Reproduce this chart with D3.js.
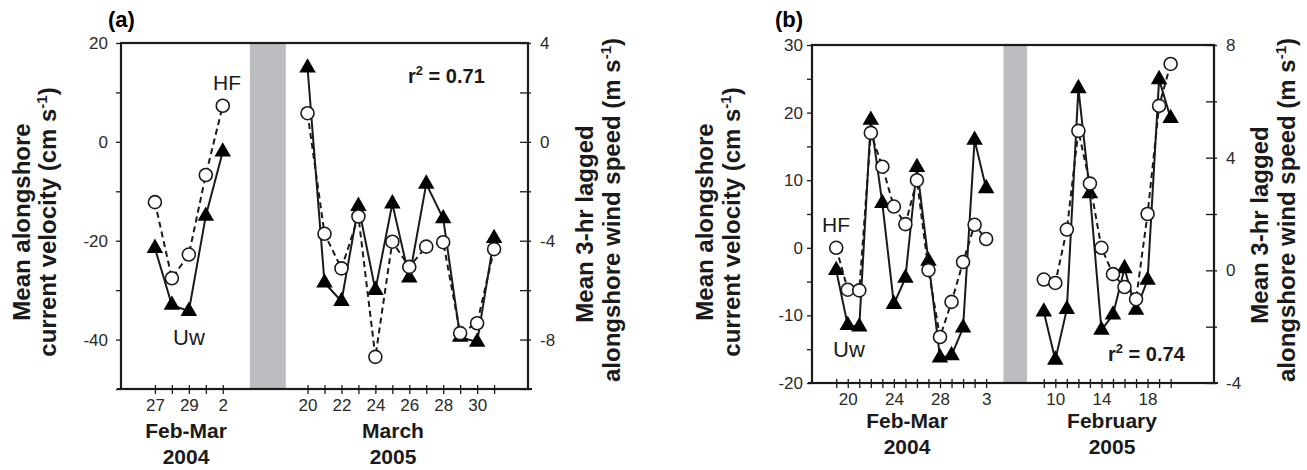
<!DOCTYPE html>
<html>
<head>
<meta charset="utf-8">
<script src="https://cdn.jsdelivr.net/npm/d3@7"></script>
<style>
  body { margin: 0; background: #fff; }
  svg { font-family: "Liberation Sans", Arial, Helvetica, sans-serif; }
</style>
</head>
<body>
<svg id="chart" width="1307" height="470"></svg>
<script>
// panel (a): Feb-Mar 2004 and March 2005
const aDays2004 = [27, 28, 29, 1, 2];
const aHF2004 = [-12.2, -27.6, -22.8, -6.7, 7.3];          // cm/s
const aUw2004 = [-4.3, -6.6, -6.85, -3.0, -0.4];           // m/s
const aDays2005 = [20, 21, 22, 23, 24, 25, 26, 27, 28, 29, 30, 31];
const aHF2005 = [5.8, -18.6, -25.6, -15.1, -43.5, -20.2, -25.3, -21.2, -20.3, -38.7, -36.7, -21.7];
const aUw2005 = [3.0, -5.7, -6.45, -2.6, -6.0, -2.5, -5.5, -1.7, -3.1, -7.9, -8.1, -3.9];
const aLabels2004 = [27, 29, 2];
const aLabels2005 = [20, 22, 24, 26, 28, 30];
const aLeftLabels = [20, 0, -20, -40];
const aRightLabels = [4, 0, -4, -8];

// panel (b): Feb-Mar 2004 and February 2005
const bDays2004 = [19, 20, 21, 22, 23, 24, 25, 26, 27, 28, 29, 1, 2, 3];
const bHF2004 = [0.0, -6.2, -6.3, 17.0, 12.0, 6.1, 3.5, 10.0, -3.3, -13.2, -8.0, -2.1, 3.4, 1.3];
const bUw2004 = [0.0, -1.95, -2.0, 5.34, 2.38, -1.2, -0.27, 3.66, 0.33, -3.1, -3.02, -2.04, 4.63, 2.91];
const bDays2005 = [9, 10, 11, 12, 13, 14, 15, 16, 17, 18, 19, 20];
const bHF2005 = [-4.7, -5.2, 2.7, 17.3, 9.5, 0.0, -3.9, -5.8, -7.6, 5.0, 21.0, 27.2];
const bUw2005 = [-1.47, -3.18, -1.38, 6.46, 2.73, -2.12, -1.58, 0.07, -1.41, -0.34, 6.78, 5.4];
const bLabels2004 = [20, 24, 28, 3];
const bLabels2005 = [10, 14, 18];
const bLeftLabels = [30, 20, 10, 0, -10, -20];
const bRightLabels = [8, 4, 0, -4];

const svg = d3.select('#chart');
const ink = '#1a1a1a';

function drawPanel(p) {
  const g = svg.append('g');
  const x = d3.scaleLinear().domain(p.xDomain).range([p.left, p.right]);
  const yL = d3.scaleLinear().domain(p.leftDomain).range([p.bottom, p.top]);
  const yR = d3.scaleLinear().domain(p.rightDomain).range([p.bottom, p.top]);

  // gap between the two years
  g.append('rect')
    .attr('x', x(p.gap[0])).attr('y', p.top)
    .attr('width', x(p.gap[1]) - x(p.gap[0]))
    .attr('height', p.bottom - p.top)
    .attr('fill', '#bcbdc1');

  // slots along the bottom axis
  const slotLabel = new Map();
  const slots = [];
  p.segments.forEach(s => s.days.forEach((d, i) => {
    slots.push(s.start + i);
    slotLabel.set(s.start + i, s.labels.includes(d) ? String(d) : '');
  }));

  const left = g.append('g')
    .attr('transform', `translate(${p.left},0)`)
    .call(d3.axisLeft(yL).tickValues(p.leftTicks).tickSize(5).tickPadding(p.leftPad)
      .tickFormat(d => p.leftLabels.includes(d) ? String(d) : ''));

  const right = g.append('g')
    .attr('transform', `translate(${p.right},0)`)
    .call(d3.axisRight(yR).tickValues(p.rightTicks).tickSize(-8).tickPadding(12)
      .tickFormat(d => p.rightLabels.includes(d) ? String(d) : ''));
  right.selectAll('.tick line').attr('x1', 3);

  const bottom = g.append('g')
    .attr('transform', `translate(0,${p.bottom})`)
    .call(d3.axisBottom(x).tickValues(slots).tickSize(5)
      .tickFormat(d => slotLabel.get(d)));
  bottom.selectAll('.tick line').attr('y1', -4);
  bottom.selectAll('.tick text').attr('y', 10);

  [left, right, bottom].forEach(a => {
    a.attr('font-family', null).attr('font-size', 17);
    a.select('.domain').remove();
    a.selectAll('.tick line').attr('stroke', ink).attr('stroke-width', 1.3);
    a.selectAll('.tick text').attr('fill', '#2a2a2a');
  });

  g.append('line')
    .attr('x1', p.left - 4).attr('x2', p.right + 4)
    .attr('y1', p.bottom).attr('y2', p.bottom)
    .attr('stroke', ink).attr('stroke-width', 2.2);
  g.append('rect')
    .attr('x', p.left).attr('y', p.top)
    .attr('width', p.right - p.left).attr('height', p.bottom - p.top)
    .attr('fill', 'none').attr('stroke', ink).attr('stroke-width', 2.2);

  const uwLine = d3.line().x(d => x(d.slot)).y(d => yR(d.uw));
  const hfLine = d3.line().x(d => x(d.slot)).y(d => yL(d.hf));
  const tri = d3.symbol().type(d3.symbolTriangle).size(118);

  p.segments.forEach(s => {
    const pts = s.days.map((d, i) => ({ slot: s.start + i, hf: s.hf[i], uw: s.uw[i] }));

    g.append('path').datum(pts).attr('d', uwLine)
      .attr('fill', 'none').attr('stroke', ink).attr('stroke-width', 2);
    g.selectAll(null).data(pts).enter().append('path')
      .attr('d', tri)
      .attr('transform', d => `translate(${x(d.slot)},${yR(d.uw)})`)
      .attr('fill', '#000');

    g.append('path').datum(pts).attr('d', hfLine)
      .attr('fill', 'none').attr('stroke', ink).attr('stroke-width', 2)
      .attr('stroke-dasharray', '6,4');
    g.selectAll(null).data(pts).enter().append('circle')
      .attr('cx', d => x(d.slot)).attr('cy', d => yL(d.hf)).attr('r', 6.5)
      .attr('fill', '#fff').attr('stroke', ink).attr('stroke-width', 1.6);
  });

  // texts
  g.append('text').attr('x', p.tag[0]).attr('y', p.tag[1])
    .attr('font-size', 22).attr('font-weight', 'bold').text(p.name);
  g.append('text').attr('x', p.hfPos[0]).attr('y', p.hfPos[1])
    .attr('font-size', 21).attr('fill', ink).text('HF');
  g.append('text').attr('x', p.uwPos[0]).attr('y', p.uwPos[1])
    .attr('font-size', 22).attr('fill', ink).text('Uw');

  const r2 = g.append('text').attr('x', p.r2Pos[0]).attr('y', p.r2Pos[1])
    .attr('font-size', 20).attr('font-weight', 'bold').attr('fill', ink);
  r2.append('tspan').text('r');
  r2.append('tspan').attr('font-size', 13).attr('dy', -8).text('2');
  r2.append('tspan').attr('dy', 8).text(' = ' + p.r2);

  function title(bx, cy, main, unit) {
    const t = g.append('text')
      .attr('transform', `translate(${bx},${cy}) rotate(-90)`)
      .attr('text-anchor', 'middle')
      .attr('font-size', 24).attr('font-weight', 'bold').attr('fill', ink);
    t.append('tspan').text(main + (unit ? ' (' + unit + ' s' : ''));
    if (unit) {
      t.append('tspan').attr('font-size', 15).attr('dy', -9).text('-1');
      t.append('tspan').attr('dy', 9).text(')');
    }
  }
  title(p.leftTitle[0], p.leftTitle[1], 'Mean alongshore');
  title(p.leftTitle[2], p.leftTitle[3], 'current velocity', 'cm');
  title(p.rightTitle[0], p.rightTitle[1], 'Mean 3-hr lagged');
  title(p.rightTitle[2], p.rightTitle[3], 'alongshore wind speed', 'm');

  p.months.forEach(m => {
    g.append('text').attr('x', m[0]).attr('y', m[1]).attr('text-anchor', 'middle')
      .attr('font-size', 21).attr('font-weight', 'bold').attr('fill', ink).text(m[2]);
    g.append('text').attr('x', m[0]).attr('y', m[1] + 26).attr('text-anchor', 'middle')
      .attr('font-size', 21).attr('font-weight', 'bold').attr('fill', ink).text(m[3]);
  });
}

drawPanel({
  name: '(a)', tag: [108, 27],
  left: 121, right: 528, top: 43, bottom: 389,
  xDomain: [-2, 22], gap: [5.6, 7.72],
  leftDomain: [-50, 20], rightDomain: [-10, 4],
  leftTicks: d3.range(-50, 21, 10), leftLabels: aLeftLabels, leftPad: 8,
  rightTicks: d3.range(-10, 5, 2), rightLabels: aRightLabels,
  segments: [
    { start: 0, days: aDays2004, hf: aHF2004, uw: aUw2004, labels: aLabels2004 },
    { start: 9, days: aDays2005, hf: aHF2005, uw: aUw2005, labels: aLabels2005 }
  ],
  hfPos: [213, 90], uwPos: [173, 345], r2Pos: [408, 83], r2: '0.71',
  leftTitle: [30, 222, 56, 222], rightTitle: [593, 224, 620, 210],
  months: [[186, 438, 'Feb-Mar', '2004'], [393, 438, 'March', '2005']]
});

drawPanel({
  name: '(b)', tag: [775, 27],
  left: 812, right: 1214, top: 45, bottom: 383,
  xDomain: [-2.1, 32.76], gap: [14.5, 16.55],
  leftDomain: [-20, 30], rightDomain: [-4, 8],
  leftTicks: d3.range(-20, 31, 5), leftLabels: bLeftLabels, leftPad: 4,
  rightTicks: d3.range(-4, 9, 2), rightLabels: bRightLabels,
  segments: [
    { start: 0, days: bDays2004, hf: bHF2004, uw: bUw2004, labels: bLabels2004 },
    { start: 18, days: bDays2005, hf: bHF2005, uw: bUw2005, labels: bLabels2005 }
  ],
  hfPos: [822, 232], uwPos: [833, 357], r2Pos: [1108, 361], r2: '0.74',
  leftTitle: [713, 222, 740, 222], rightTitle: [1268, 225, 1295, 210],
  months: [[907, 428, 'Feb-Mar', '2004'], [1112, 428, 'February', '2005']]
});
</script>
</body>
</html>
